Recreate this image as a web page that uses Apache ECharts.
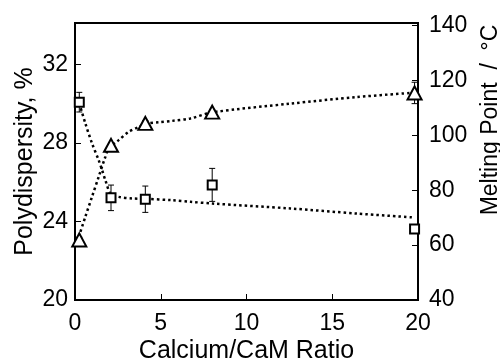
<!DOCTYPE html>
<html>
<head>
<meta charset="utf-8">
<script src="https://cdn.jsdelivr.net/npm/echarts@6/dist/echarts.min.js"></script>
<style>
  html, body { margin: 0; padding: 0; background: #fff; }
  #chart { width: 500px; height: 361px; }
</style>
</head>
<body>
<div id="chart"></div>
<script>
// measured points
const ratioVals = [0.25, 2.1, 4.1, 8.0, 19.8];
const polyVals = [30.07, 25.2, 25.13, 25.86, 23.62];
const polyErr = [0.5, 0.65, 0.67, 0.84, 0.2];
const meltVals = [61.9, 96.4, 104.4, 108.5, 115.5];
const meltErr = [1, 1, 1, 1, 3.9];

// dotted fit curves
const polyFitX = [0.25, 0.6, 0.99, 1.38, 1.58, 1.77, 2.07, 2.55, 3.33, 4.1, 5.66, 6.73, 8.02, 12.55, 16.44, 19.75];
const polyFitY = [30.02, 29.0, 27.98, 27.12, 26.61, 26.1, 25.42, 25.25, 25.17, 25.15, 25.08, 25.0, 24.91, 24.66, 24.4, 24.2];
const meltFitX = [0.22, 0.6, 0.99, 1.38, 1.77, 1.97, 2.55, 3.13, 3.72, 4.15, 4.88, 5.66, 6.73, 7.98, 12.55, 16.44, 19.56];
const meltFitY = [63.0, 70.3, 77.6, 84.9, 92.2, 95.2, 98.3, 101.3, 103.1, 104.3, 104.8, 105.3, 106.2, 108.4, 111.6, 114.0, 115.5];

const xTicks = [0, 5, 10, 15, 20];
const polyTicks = [20, 24, 28, 32];
const meltTicks = [40, 60, 80, 100, 120, 140];

const FONT = 'Liberation Sans, Arial, sans-serif';

const chart = echarts.init(document.getElementById('chart'), null, { renderer: 'canvas' });

function zip(xs, ys) {
  return xs.map((x, i) => [x, ys[i]]);
}

// error bars through the axis scales
function errorBars(xs, ys, errs, yIdx) {
  return {
    type: 'custom',
    yAxisIndex: yIdx,
    z: 3,
    silent: true,
    data: xs.map((x, i) => [x, ys[i] - errs[i], ys[i] + errs[i]]),
    renderItem: (params, api) => {
      const lo = api.coord([api.value(0), api.value(1)]);
      const hi = api.coord([api.value(0), api.value(2)]);
      const w = 3;
      const st = { stroke: '#000', lineWidth: 1 };
      return {
        type: 'group',
        children: [
          { type: 'line', shape: { x1: lo[0], y1: lo[1], x2: hi[0], y2: hi[1] }, style: st },
          { type: 'line', shape: { x1: lo[0] - w, y1: lo[1], x2: lo[0] + w, y2: lo[1] }, style: st },
          { type: 'line', shape: { x1: hi[0] - w, y1: hi[1], x2: hi[0] + w, y2: hi[1] }, style: st },
        ],
      };
    },
  };
}

const axisCommon = {
  axisLine: { show: true, lineStyle: { color: '#000', width: 2 } },
  axisTick: { show: true, inside: true, length: 6, lineStyle: { color: '#000', width: 1 } },
  splitLine: { show: false },
  nameLocation: 'middle',
  nameMoveOverlap: false,
  nameTextStyle: { color: '#000', fontSize: 25, fontFamily: FONT },
};

chart.setOption({
  animation: false,
  backgroundColor: '#fff',
  grid: {
    left: 75, right: 82, top: 23, bottom: 61,
    containLabel: false,
    outerBoundsMode: 'none',
    show: true, borderColor: '#000', borderWidth: 2,
  },
  xAxis: {
    ...axisCommon,
    type: 'value',
    min: 0, max: 20, interval: 5,
    name: 'Calcium/CaM Ratio',
    nameGap: 39,
    axisLabel: {
      color: '#000', fontSize: 23, fontFamily: FONT, margin: 12,
      formatter: (v) => (xTicks.includes(v) ? String(v) : ''),
    },
  },
  yAxis: [
    {
      ...axisCommon,
      type: 'value',
      position: 'left',
      min: 20, max: 34.1, interval: 4,
      name: 'Polydispersity, %',
      nameGap: 37,
      axisLabel: {
        color: '#000', fontSize: 23, fontFamily: FONT, margin: 7,
        showMaxLabel: false,
        formatter: (v) => (polyTicks.includes(v) ? String(v) : ''),
      },
    },
    {
      ...axisCommon,
      type: 'value',
      position: 'right',
      min: 40, max: 141, interval: 20,
      name: 'Melting Point  /  °C',
      nameGap: 61,
      nameRotate: 90,
      nameTextStyle: {
        color: '#000', fontSize: 23, fontFamily: FONT,
        padding: [0, 0, 0, 83],
      },
      axisLabel: {
        color: '#000', fontSize: 23, fontFamily: FONT, margin: 11,
        showMaxLabel: false,
        formatter: (v) => (meltTicks.includes(v) ? String(v) : ''),
      },
    },
  ],
  series: [
    {
      type: 'line',
      yAxisIndex: 0,
      data: zip(polyFitX, polyFitY),
      showSymbol: false,
      smooth: 0.3,
      z: 2,
      lineStyle: { color: '#000', width: 2.5, type: [2.5, 3] },
    },
    {
      type: 'line',
      yAxisIndex: 1,
      data: zip(meltFitX, meltFitY),
      showSymbol: false,
      smooth: 0.3,
      z: 2,
      lineStyle: { color: '#000', width: 2.5, type: [2.5, 3] },
    },
    errorBars(ratioVals, polyVals, polyErr, 0),
    errorBars(ratioVals, meltVals, meltErr, 1),
    {
      type: 'scatter',
      yAxisIndex: 0,
      data: zip(ratioVals, polyVals),
      symbol: 'rect',
      symbolSize: 9,
      z: 5,
      itemStyle: { color: '#fff', borderColor: '#000', borderWidth: 2, opacity: 1 },
    },
    {
      type: 'scatter',
      yAxisIndex: 1,
      data: zip(ratioVals, meltVals),
      symbol: 'triangle',
      symbolSize: [14, 13],
      z: 5,
      itemStyle: { color: '#fff', borderColor: '#000', borderWidth: 2, opacity: 1 },
    },
  ],
});
</script>
</body>
</html>
